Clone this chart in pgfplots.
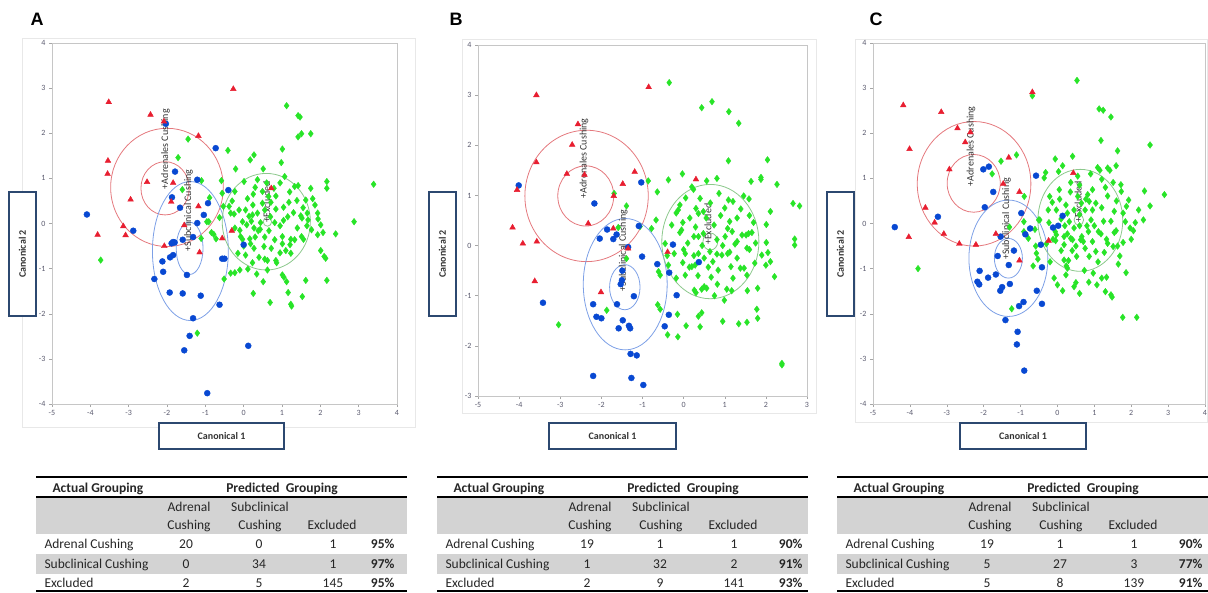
\documentclass[border=0pt]{standalone}
\usepackage{fontspec}
\setmainfont{Carlito}
\newfontfamily\arialfont{Liberation Sans}
\usepackage{pgfplots}
\pgfplotsset{compat=1.18}
\definecolor{mred}{RGB}{232,30,48}
\definecolor{mblue}{RGB}{8,72,210}
\definecolor{mgreen}{RGB}{40,228,40}
\definecolor{ered}{RGB}{228,120,125}
\definecolor{eblue}{RGB}{125,160,230}
\definecolor{egreen}{RGB}{140,200,140}
\definecolor{boxc}{RGB}{44,72,112}
\definecolor{tgray}{RGB}{211,211,211}
\definecolor{tickc}{RGB}{90,90,110}
\newcommand\tabfont{\fontsize{13.5}{14}\selectfont}
\newcommand\boxfont{\fontsize{10}{10}\selectfont\bfseries}
\pgfplotsset{
 canon/.style={scale only axis, anchor=south west,
  axis line style={gray!45}, xtick pos=left, ytick pos=left,
  tick align=outside, major tick length=3pt,
  tick style={gray!70, line width=0.5pt},
  ticklabel style={font=\fontsize{8}{8}\selectfont, text=tickc},
  /pgf/number format/assume math mode=true},
 gpts/.style={only marks, mark=diamond*, mark size=3.3pt, mark options={draw=mgreen, fill=mgreen}},
 bpts/.style={only marks, mark=*, mark size=3pt, mark options={draw=mblue, fill=mblue}},
 rpts/.style={only marks, mark=triangle*, mark size=3.3pt, mark options={draw=mred, fill=mred}},
}
\newcommand{\elab}[3]{\node[rotate=90, anchor=west, inner sep=0pt, font=\fontsize{10}{10}\selectfont, text=black!80] at (axis cs:#1,#2) {+#3};}
\newcommand{\tabframe}[1]{%
\begin{scope}[shift={(#1pt,0pt)}, font=\tabfont, text=black!85]
\fill[tgray] (0pt,-497pt) rectangle (371pt,-534pt);
\fill[tgray] (0pt,-554pt) rectangle (371pt,-574pt);
\draw[line width=1.5pt] (0pt,-477pt) -- (371pt,-477pt);
\draw[line width=1.5pt] (0pt,-497pt) -- (371pt,-497pt);
\draw[line width=1.5pt] (0pt,-591pt) -- (371pt,-591pt);
\node[anchor=base west, font=\tabfont\bfseries] at (13pt,-492.5pt) {Actual Grouping};
\node[anchor=base, font=\tabfont\bfseries] at (246pt,-492.5pt) {Predicted\ \ Grouping};
\node[anchor=base] at (153pt,-511.5pt) {Adrenal};
\node[anchor=base] at (153pt,-529.5pt) {Cushing};
\node[anchor=base] at (224pt,-511.5pt) {Subclinical};
\node[anchor=base] at (224pt,-529.5pt) {Cushing};
\node[anchor=base] at (296pt,-529.5pt) {Excluded};
\end{scope}}
\newcommand{\pctx}{366}
\newcommand{\tabrow}[7]{%
\begin{scope}[shift={(#1pt,-#2pt)}, font=\tabfont, text=black!85]
\node[anchor=base west] at (5pt,-4.5pt) {#3};
\node[anchor=base] at (150pt,-4.5pt) {#4};
\node[anchor=base] at (223pt,-4.5pt) {#5};
\node[anchor=base] at (297pt,-4.5pt) {#6};
\node[anchor=base east, font=\tabfont\bfseries] at (\pctx pt,-4.5pt) {#7};
\end{scope}}
\begin{document}
\begin{tikzpicture}
\path[use as bounding box] (0pt,0pt) rectangle (1208pt,-592pt);
% panel frames
\draw[gray!18] (22pt,-38pt) rectangle (415pt,-427pt);
\draw[gray!18] (462pt,-39pt) rectangle (816pt,-413pt);
\draw[gray!18] (855pt,-39pt) rectangle (1207.5pt,-422pt);
% letters
\node[font=\arialfont\fontsize{18}{18}\selectfont\bfseries] at (37pt,-19.5pt) {A};
\node[font=\arialfont\fontsize{18}{18}\selectfont\bfseries] at (456pt,-19.5pt) {B};
\node[font=\arialfont\fontsize{18}{18}\selectfont\bfseries] at (876pt,-19.5pt) {C};

% ---------------- Panel A
\begin{axis}[canon, at={(52pt,-404pt)}, width=345pt, height=361pt,
 xmin=-5, xmax=4, ymin=-4, ymax=4, xtick={-5,...,4}, ytick={-4,...,4}]
\draw[ered, line width=0.8pt] (axis cs:-2.0,0.80) ellipse [x radius=1.47, y radius=1.31];
\draw[ered, line width=0.8pt] (axis cs:-2.05,0.78) ellipse [x radius=0.63, y radius=0.59];
\draw[eblue, line width=0.8pt] (axis cs:-1.39,-0.61) ellipse [x radius=0.99, y radius=1.54];
\draw[eblue, line width=0.8pt] (axis cs:-1.41,-0.55) ellipse [x radius=0.35, y radius=0.58];
\draw[egreen, line width=0.8pt] (axis cs:0.59,0.04) ellipse [x radius=1.15, y radius=1.07];
\draw[egreen, line width=0.8pt] (axis cs:0.62,0.04) ellipse [x radius=0.11, y radius=0.10];
\addplot[gpts] coordinates {
(-1.45,1.87) (-1.71,1.46) (-1.60,0.75) (-1.10,0.95) (-0.58,0.95) (-0.56,0.67) (-0.89,0.57) (-0.53,0.38) (-0.63,0.13) (-0.96,0.04) (-0.91,0.04) (-0.84,-0.20) (-0.78,-0.24) (-0.72,-0.34) (-1.11,-0.33) (-1.21,-2.43) (-3.73,-0.81)
(1.12,2.61) (1.42,2.39) (1.47,2.36) (1.51,1.99) (1.42,1.92) (1.75,1.99) (-0.41,1.62) (0.27,1.52) (0.17,1.41) (1.01,1.65) (0.98,1.35) (-0.21,1.21) (0.51,1.21) (1.07,1.04) (0.01,0.93) (0.36,0.97) (2.17,0.93) (2.17,0.78) (3.39,0.87) (1.33,0.82) (1.42,0.84) (1.75,0.78) (-0.23,0.71) (0.25,0.65) (0.49,0.71) (0.79,0.78) (0.84,0.61) (1.39,0.51) (1.18,0.47) (0.71,0.47) (1.62,0.52) (1.86,0.41) (-0.38,0.38) (-0.34,0.23) (0.24,0.41) (0.49,0.45) (-0.12,0.30) (-0.25,0.21) (0.36,0.23) (0.14,0.16) (0.23,0.19) (0.84,0.32) (1.04,0.36) (1.30,0.24) (1.49,0.17) (1.52,0.12) (1.66,0.23) (1.93,0.23) (1.68,0.08) (1.94,0.10) (-0.03,0.04) (0.08,-0.03) (0.44,0.02) (0.81,0.02) (1.04,0.07) (1.40,-0.10) (1.77,-0.14) (2.01,-0.03) (-0.23,-0.10) (0.27,-0.10) (0.38,-0.16) (0.43,-0.13) (0.66,-0.16) (-0.08,-0.29) (-0.03,-0.35) (0.16,-0.34) (0.81,-0.36) (1.01,-0.29) (1.23,-0.35) (1.51,-0.29) (1.56,-0.35) (1.93,-0.25) (2.07,-0.20) (2.40,-0.23) (2.88,0.04) (0.18,-0.45) (0.27,-0.55) (0.53,-0.51) (0.72,-0.55) (1.01,-0.45) (1.21,-0.47) (1.33,-0.36) (-0.15,-0.66) (0.05,-0.70) (1.23,-0.66) (2.01,-0.60) (2.10,-0.73) (2.14,-0.77) (0.23,-0.87) (0.55,-0.79) (0.62,-0.82) (0.84,-0.82) (0.86,-0.87) (0.62,-1.03) (-0.23,-1.09) (-0.34,-1.10) (-0.51,-1.23) (-0.10,-1.03) (0.11,-1.01) (0.34,-1.12) (1.01,-1.14) (1.05,-1.19) (1.12,-1.29) (1.62,-1.26) (2.17,-1.26) (0.51,-1.29) (0.25,-1.55) (1.16,-1.53) (1.53,-1.62) (0.69,-1.75) (1.23,-1.79) (1.25,-1.83)
(0.10,0.55) (0.30,0.80) (0.60,0.90) (0.95,0.90) (1.20,0.70) (0.05,0.30) (0.55,0.30) (0.70,0.15) (1.15,0.15) (0.95,-0.05) (0.20,0.05) (-0.10,-0.15) (0.55,-0.30) (0.30,-0.30) (1.10,-0.60) (0.40,-0.75) (0.95,-0.65) (1.65,-0.05) (1.80,0.55) (0.00,-0.50) (-0.30,0.50) (0.65,0.60) (1.55,0.35)
};
\addplot[bpts] coordinates {
(-2.03,2.21) (-0.73,1.67) (-1.79,1.15) (-1.21,0.97) (-0.40,0.74) (-1.87,0.58) (-1.66,0.35) (-0.93,0.45) (-1.04,0.19) (-1.21,0.01) (-4.09,0.20) (-2.88,-0.16) (-1.32,-0.30) (-1.59,-0.36) (-1.84,-0.41) (-1.88,-0.44) (-1.80,-0.42) (-1.84,-0.70) (-1.92,-0.75) (-2.12,-0.84) (-2.10,-1.07) (-1.48,-1.14) (-2.33,-1.23) (-1.93,-1.53) (-1.59,-1.55) (-1.12,-1.60) (-0.63,-1.80) (-0.56,-0.78) (-0.50,-0.78) (0.0,-0.47) (-1.32,-2.10) (-1.41,-2.49) (-1.55,-2.81) (0.12,-2.71) (-0.95,-3.76)
};
\addplot[rpts] coordinates {
(-3.52,2.69) (-2.43,2.41) (-2.08,2.26) (-0.27,2.98) (-1.18,1.94) (-3.54,1.39) (-3.55,1.10) (-2.52,0.92) (-1.84,0.90) (-2.95,0.53) (-1.89,0.48) (-1.18,0.38) (-3.14,-0.06) (-3.81,-0.25) (-3.08,-0.26) (-1.55,-0.04) (-2.07,-0.50) (-1.15,-0.64) (-0.56,-0.33) (-0.31,-0.16) (0.72,0.78)
};
\elab{-2.04}{0.76}{Adrenales Cushing}
\elab{-1.44}{-0.62}{Subclinical Cushing}
\elab{0.60}{0.02}{Excluded}
\end{axis}

% ---------------- Panel B
\begin{axis}[canon, at={(478pt,-396pt)}, width=329pt, height=351pt,
 xmin=-5, xmax=3, ymin=-3, ymax=4, xtick={-5,...,3}, ytick={-3,...,4}]
\draw[ered, line width=0.8pt] (axis cs:-2.36,0.99) ellipse [x radius=1.50, y radius=1.31];
\draw[ered, line width=0.8pt] (axis cs:-2.38,0.99) ellipse [x radius=0.68, y radius=0.60];
\draw[eblue, line width=0.8pt] (axis cs:-1.42,-0.77) ellipse [x radius=1.02, y radius=1.31];
\draw[eblue, line width=0.8pt] (axis cs:-1.43,-0.83) ellipse [x radius=0.37, y radius=0.45];
\draw[egreen, line width=0.8pt] (axis cs:0.65,0.08) ellipse [x radius=1.18, y radius=1.14];
\draw[egreen, line width=0.8pt] (axis cs:0.65,0.08) ellipse [x radius=0.18, y radius=0.17];
\addplot[gpts] coordinates {
(-1.69,1.04) (-1.39,0.79) (-1.06,0.38) (-1.59,0.36) (-1.39,-0.26) (-1.87,-1.29) (-3.04,-1.58)
(-0.35,3.25) (0.69,2.87) (0.44,2.75) (1.10,2.67) (1.34,2.44) (1.09,1.69) (2.04,1.71) (-0.03,1.43) (-0.86,1.29) (-0.37,1.31) (0.20,1.17) (0.24,1.12) (0.56,1.29) (0.81,1.34) (1.88,1.36) (1.88,1.32) (1.64,1.28) (2.27,1.22) (-0.64,1.07) (0.40,0.94) (0.86,1.04) (1.46,0.99) (1.59,0.93) (1.09,0.91) (1.20,0.88) (-0.09,0.81) (-0.13,0.71) (-0.18,0.65) (0.30,0.74) (0.36,0.64) (0.48,0.68) (1.39,0.73) (2.11,0.68) (2.66,0.84) (2.82,0.79) (-0.67,0.51) (-0.29,0.41) (-0.02,0.46) (0.29,0.37) (0.74,0.41) (1.12,0.48) (1.07,0.34) (1.18,0.28) (1.70,0.46) (2.01,0.42) (-0.78,0.34) (-0.09,0.26) (-0.05,0.31) (0.25,0.18) (0.36,0.18) (0.48,0.24) (0.81,0.12) (1.01,0.18) (1.42,0.21) (1.52,0.21) (1.66,0.26) (1.58,0.24) (1.30,0.08) (1.25,0.03) (2.70,0.13) (2.70,0.01) (2.01,0.06) (-0.45,0.04) (-0.23,-0.16) (0,-0.08) (0.04,-0.16) (0.36,-0.16) (0.64,-0.12) (0.81,-0.17) (0.93,-0.19) (1.07,-0.16) (1.12,-0.13) (1.54,-0.05) (1.60,-0.08) (2.05,-0.14) (1.90,-0.19) (-0.02,-0.34) (-0.37,-0.39) (0.14,-0.43) (0.20,-0.42) (0.28,-0.39) (0.71,-0.32) (0.84,-0.49) (0.60,-0.43) (1.15,-0.42) (1.38,-0.45) (1.47,-0.45) (1.73,-0.35) (2.0,-0.39) (2.11,-0.32) (-0.61,-0.52) (-0.57,-0.59) (0.04,-0.59) (-0.18,-0.65) (0.67,-0.63) (1.54,-0.59) (2.21,-0.62) (0.82,-0.77) (0.26,-0.89) (0.30,-0.94) (0.44,-0.87) (0.50,-0.82) (0.56,-0.85) (1.05,-0.87) (1.17,-0.90) (1.80,-0.85) (0.99,-1.09) (-0.57,-1.27) (-0.15,-1.37) (0.36,-1.41) (0.44,-1.34) (0.95,-1.51) (1.34,-1.56) (1.54,-1.53) (1.78,-1.27) (1.80,-1.45) (0.06,-1.60) (0.40,-1.62) (-0.39,-1.78) (-0.14,-1.82) (2.39,-2.35) (2.39,-2.38) (-0.63,-1.18)
(0.15,0.55) (0.55,0.55) (0.90,0.60) (1.30,0.55) (0.10,0.05) (0.45,0.00) (0.95,0.00) (1.75,0.05) (0.25,-0.20) (0.50,-0.25) (1.30,-0.25) (0.05,0.95) (0.65,0.85) (1.00,0.75) (1.60,0.60) (0.35,-0.60) (1.20,-0.65) (0.75,-1.00) (1.55,-0.90) (-0.40,-0.20)
};
\addplot[bpts] coordinates {
(-4.01,1.20) (-2.17,0.84) (-1.03,1.26) (-1.86,0.32) (-2.04,0.14) (-1.71,0.13) (-1.63,0.22) (-1.09,0.39) (-1.35,-0.03) (-1.01,-0.22) (-0.64,-0.37) (-0.35,-0.54) (-0.26,0.02) (0.37,-0.33) (-0.17,-0.99) (-1.49,-0.50) (-1.53,-0.77) (-1.21,-1.01) (-3.42,-1.14) (-2.20,-1.17) (-1.62,-1.17) (-2.12,-1.42) (-2.00,-1.45) (-1.48,-1.49) (-1.58,-1.65) (-1.33,-1.60) (-1.30,-1.65) (-0.46,-1.61) (-0.36,-1.38) (-1.29,-2.16) (-1.14,-2.19) (-2.20,-2.60) (-1.27,-2.64) (-0.98,-2.78) (-1.50,-0.69)
};
\addplot[rpts] coordinates {
(-3.58,3.00) (-0.85,3.16) (-2.57,2.42) (-2.71,2.01) (-3.58,1.66) (-2.84,1.43) (-2.41,1.41) (-1.19,1.47) (-1.48,1.23) (-4.05,1.11) (-1.70,0.99) (-2.32,0.44) (-4.16,0.36) (-1.71,0.34) (-3.91,0.04) (-3.57,0.08) (-3.62,-0.71) (-2.01,-0.93) (0.30,1.32) (-0.39,-0.13) (-1.35,-0.06)
};
\elab{-2.42}{0.94}{Adrenales Cushing}
\elab{-1.47}{-0.92}{Subclinical Cushing}
\elab{0.59}{0.01}{Excluded}
\end{axis}

% ---------------- Panel C
\begin{axis}[canon, at={(873pt,-404pt)}, width=332pt, height=361pt,
 xmin=-5, xmax=4, ymin=-4, ymax=4, xtick={-5,...,4}, ytick={-4,...,4}]
\draw[ered, line width=0.8pt] (axis cs:-2.26,0.88) ellipse [x radius=1.54, y radius=1.38];
\draw[ered, line width=0.8pt] (axis cs:-2.27,0.89) ellipse [x radius=0.72, y radius=0.64];
\draw[eblue, line width=0.8pt] (axis cs:-1.33,-0.77) ellipse [x radius=1.07, y radius=1.29];
\draw[eblue, line width=0.8pt] (axis cs:-1.33,-0.77) ellipse [x radius=0.38, y radius=0.44];
\draw[egreen, line width=0.8pt] (axis cs:0.62,0.07) ellipse [x radius=1.15, y radius=1.13];
\draw[egreen, line width=0.8pt] (axis cs:0.58,0.08) ellipse [x radius=0.13, y radius=0.12];
\addplot[gpts] coordinates {
(-0.68,2.83) (-1.11,1.52) (-1.53,1.38) (-1.77,1.10) (-0.90,0.60) (-0.51,0.08) (-0.91,0.04) (-1.30,-0.08) (-0.91,-0.18) (-0.79,-0.33) (-0.61,-0.13) (-0.59,-0.50) (-0.57,-0.66) (-0.53,-0.79) (-0.66,-0.94) (-1.24,-1.89) (-3.78,-1.00)
(0.53,3.17) (1.13,2.54) (1.24,2.51) (1.45,2.36) (1.18,1.84) (2.51,1.74) (1.63,1.61) (-0.06,1.43) (0.41,1.49) (-0.32,1.13) (-0.36,1.01) (0.14,1.28) (0.03,1.15) (1.09,1.24) (1.15,1.18) (1.36,1.23) (1.42,1.18) (1.59,1.28) (1.20,0.98) (1.51,0.91) (1.72,0.86) (0.36,0.91) (0.82,0.64) (0.77,0.54) (0.86,0.49) (1.04,0.45) (1.36,0.61) (1.73,0.71) (2.36,0.72) (2.90,0.64) (-0.21,0.60) (-0.14,0.47) (0.06,0.54) (0.23,0.41) (-0.03,0.30) (0.27,0.23) (0.32,0.04) (1.54,0.27) (1.93,0.52) (1.87,0.38) (1.78,0.23) (2.51,0.39) (2.33,0.08) (1.84,0.04) (-0.48,0.08) (-0.23,0.02) (0.91,0.08) (2.11,0.02) (1.97,-0.10) (2.06,-0.16) (0.84,-0.18) (1.11,-0.18) (1.18,-0.23) (1.54,-0.20) (1.59,-0.16) (-0.06,-0.18) (-0.03,-0.25) (-0.12,-0.35) (-0.05,-0.38) (0.18,-0.29) (0.27,-0.23) (0.36,-0.33) (0.41,-0.36) (0.66,-0.29) (0.63,-0.36) (0.70,-0.40) (1.33,-0.35) (1.36,-0.44) (1.78,-0.42) (1.63,-0.50) (1.51,-0.51) (0.18,-0.47) (1.04,-0.62) (1.27,-0.64) (0.86,-0.73) (0.52,-0.73) (0.18,-0.81) (0.30,-0.82) (0.24,-0.94) (0.27,-0.99) (1.69,-0.72) (1.86,-1.09) (0.23,-1.14) (0.73,-1.04) (0.97,-1.10) (1.20,-1.21) (1.33,-1.19) (-0.09,-1.21) (0.50,-1.31) (0.45,-1.40) (0,-1.36) (0.14,-1.49) (1.07,-1.36) (1.30,-1.51) (1.45,-1.58) (1.48,-1.63) (1.77,-2.08) (2.15,-2.08)
(0.55,0.60) (0.65,0.45) (0.45,0.30) (0.60,0.20) (0.75,0.30) (0.95,0.30) (1.20,0.35) (0.10,0.10) (0.20,-0.05) (0.45,-0.10) (0.60,-0.05) (0.80,-0.05) (1.00,-0.05) (1.25,0.05) (1.45,0.05) (0.05,0.75) (0.35,0.70) (0.60,0.85) (0.95,0.75) (1.30,0.80) (1.60,0.50) (0.50,-0.50) (0.75,-0.55) (0.95,-0.40) (1.10,-0.85) (0.40,-0.60) (0.10,-0.60) (-0.30,-0.45) (-0.25,0.30) (1.65,-0.90) (2.00,-0.35) (2.20,0.30) (0.85,-1.30) (0.60,-1.55) (-0.20,-0.85) (0.55,1.05) (0.90,1.10)
};
\addplot[bpts] coordinates {
(-4.41,-0.08) (-3.24,0.15) (-2.01,1.20) (-1.86,1.26) (-1.74,0.70) (-1.97,0.36) (-0.58,1.06) (-0.98,0.23) (-1.54,-0.29) (-0.87,-0.24) (-0.74,-0.11) (-0.45,-0.47) (-0.12,-0.09) (0.02,-0.05) (0.14,0.17) (-1.62,-0.72) (-1.18,-0.60) (-1.32,-0.92) (-2.11,-1.05) (-1.67,-1.13) (-1.88,-1.20) (-2.17,-1.29) (-2.12,-1.35) (-1.29,-1.34) (-1.50,-1.41) (-1.55,-1.49) (-0.56,-1.49) (-0.42,-0.97) (-0.92,-1.74) (-1.04,-1.83) (-0.42,-1.78) (-1.41,-2.14) (-1.08,-2.40) (-1.10,-2.68) (-0.90,-3.26)
};
\addplot[rpts] coordinates {
(-4.18,2.62) (-3.15,2.47) (-2.71,2.11) (-2.36,2.02) (-2.50,1.80) (-4.01,1.65) (-1.32,1.46) (-2.93,1.20) (-1.47,0.88) (-1.03,0.70) (-3.58,0.35) (-3.33,0.02) (-3.08,-0.23) (-4.03,-0.30) (-2.66,-0.45) (-2.21,-0.47) (-1.67,-0.23) (-1.03,-0.82) (-0.68,2.91) (0.43,1.12) (-0.24,-0.38)
};
\elab{-2.34}{0.82}{Adrenales Cushing}
\elab{-1.38}{-0.81}{Subclinical Cushing}
\elab{0.56}{0.02}{Excluded}
\end{axis}

% axis label boxes
\draw[boxc, line width=2.5pt, fill=white] (9pt,-192pt) rectangle (36pt,-316pt);
\node[rotate=90, font=\boxfont, text=black!80] at (22.5pt,-254pt) {Canonical 2};
\draw[boxc, line width=2.5pt, fill=white] (159pt,-423pt) rectangle (284pt,-449pt);
\node[font=\boxfont, text=black!80] at (221.5pt,-436pt) {Canonical 1};
\draw[boxc, line width=2.5pt, fill=white] (429pt,-192pt) rectangle (456pt,-316pt);
\node[rotate=90, font=\boxfont, text=black!80] at (442.5pt,-254pt) {Canonical 2};
\draw[boxc, line width=2.5pt, fill=white] (549pt,-423pt) rectangle (676pt,-449pt);
\node[font=\boxfont, text=black!80] at (612.5pt,-436pt) {Canonical 1};
\draw[boxc, line width=2.5pt, fill=white] (827pt,-192pt) rectangle (854pt,-316pt);
\node[rotate=90, font=\boxfont, text=black!80] at (840.5pt,-254pt) {Canonical 2};
\draw[boxc, line width=2.5pt, fill=white] (960pt,-423pt) rectangle (1086pt,-449pt);
\node[font=\boxfont, text=black!80] at (1023pt,-436pt) {Canonical 1};

% tables
\renewcommand{\pctx}{362}
\tabframe{36}
\tabrow{36}{544}{Adrenal Cushing}{20}{0}{1}{95\%}
\tabrow{36}{564}{Subclinical Cushing}{0}{34}{1}{97\%}
\tabrow{36}{582.5}{Excluded}{2}{5}{145}{95\%}
\renewcommand{\pctx}{369}
\tabframe{437}
\tabrow{437}{544}{Adrenal Cushing}{19}{1}{1}{90\%}
\tabrow{437}{564}{Subclinical Cushing}{1}{32}{2}{91\%}
\tabrow{437}{582.5}{Excluded}{2}{9}{141}{93\%}
\tabframe{837}
\tabrow{837}{544}{Adrenal Cushing}{19}{1}{1}{90\%}
\tabrow{837}{564}{Subclinical Cushing}{5}{27}{3}{77\%}
\tabrow{837}{582.5}{Excluded}{5}{8}{139}{91\%}
\end{tikzpicture}
\end{document}
